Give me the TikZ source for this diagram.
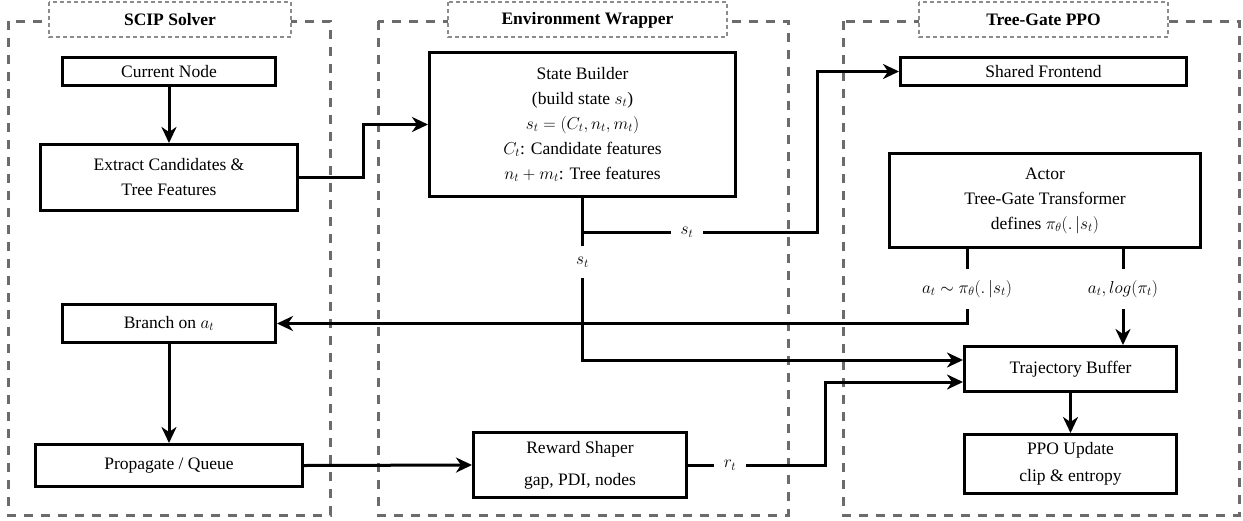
\documentclass[tikz,border=0pt]{standalone}
\usepackage{fontspec}
\setmainfont{Liberation Serif}
\usetikzlibrary{arrows.meta}
\begin{document}
\begin{tikzpicture}[x=1pt,y=-1pt,
  every node/.style={font=\fontsize{17.5}{25}\selectfont},
  container/.style={draw=black!58, line width=3pt, dash pattern=on 9pt off 8pt},
  titlebox/.style={draw=black!45, line width=1.1pt, dash pattern=on 4pt off 3pt, fill=white},
  titletext/.style={font=\fontsize{17.5}{25}\selectfont\bfseries},
  procbox/.style={draw, line width=3pt, align=center, inner sep=2pt},
  conn/.style={line width=3pt},
  arr/.style={line width=3pt, -{Stealth[length=16pt,width=15pt,inset=5pt]}},
  lbl/.style={fill=white, inner xsep=10pt, inner ysep=11pt}
]
\useasboundingbox (0,0) rectangle (1243,520);

% containers
\draw[container] (8,21) rectangle (330,515);
\draw[container] (378,21) rectangle (788,515);
\draw[container] (843,21) rectangle (1239,515);

% title boxes
\draw[titlebox] (49,2) rectangle (291,37);
\draw[titlebox] (448,2) rectangle (727,37);
\draw[titlebox] (919,2) rectangle (1168,37);
\node[titletext] (t1) at (170,20) {SCIP Solver};
\node[titletext] (t2) at (587.5,20) {Environment Wrapper};
\node[titletext] (t3) at (1043.5,20) {Tree-Gate PPO};

% process boxes
\node[procbox, minimum width=213pt, minimum height=28pt] (cur) at (169,71.5) {Current Node};
\node[procbox, minimum width=257pt, minimum height=66pt] (ext) at (169,177.5) {Extract Candidates \&\\ Tree Features};
\node[procbox, minimum width=213pt, minimum height=38pt] (branch) at (169,323.5) {Branch on $a_t$};
\node[procbox, minimum width=267pt, minimum height=42pt] (prop) at (169,465.5) {Propagate / Queue};

\node[procbox, minimum width=306pt, minimum height=144pt] (sb) at (582.5,124.5) {State Builder\\ (build state $s_t$)\\ $s_t=(C_t,n_t,m_t)$\\ $C_t$: Candidate features\\ $n_t+m_t$: Tree features};
\node[procbox, minimum width=213pt, minimum height=65pt] (rs) at (580,465) {Reward Shaper\\[7pt] gap, PDI, nodes};

\node[procbox, minimum width=286pt, minimum height=28pt] (sf) at (1043.5,71.5) {Shared Frontend};
\node[procbox, minimum width=311pt, minimum height=94pt] (actor) at (1045,200.5) {Actor\\ Tree-Gate Transformer\\ defines $\pi_\theta(.\,|s_t)$};
\node[procbox, minimum width=212pt, minimum height=45pt] (tb) at (1070.5,369) {Trajectory Buffer};
\node[procbox, minimum width=212pt, minimum height=59pt] (ppo) at (1070.5,464) {PPO Update\\[2pt] clip \& entropy};

% connectors
\draw[arr] (cur) -- (ext);
\draw[arr] (ext.east) -- (363,177.5) |- (sb.west);
\draw[arr] (sb.south) |- (817,232) |- (sf.west);
\draw[arr] (sb.south) |- ([yshift=9pt]tb.west);
\draw[arr] ([xshift=-78pt]actor.south) |- (branch.east);
\draw[arr] ([xshift=78pt]actor.south) -- ([xshift=52.5pt]tb.north);
\draw[arr] (tb) -- (ppo);
\draw[arr] (branch) -- (prop);
\draw[arr] (prop.east) -- (rs.west);
\draw[arr] (rs.east) -- (825,465) |- ([yshift=-13pt]tb.west);

% labels
\node[lbl] (l1) at (687,232) {$s_t$};
\node[lbl] (l2) at (582.5,262) {$s_t$};
\node[lbl] (l3) at (967,289) {$a_t\sim\pi_\theta(.\,|s_t)$};
\node[lbl] (l4) at (1123,289) {$a_t, log(\pi_t)$};
\node[lbl] (l5) at (730,465) {$r_t$};
\end{tikzpicture}
\end{document}
